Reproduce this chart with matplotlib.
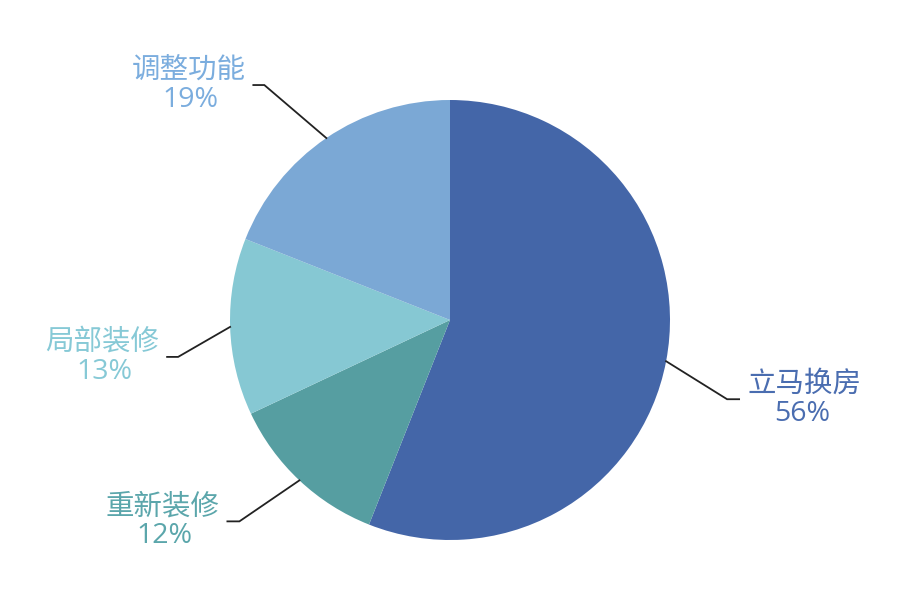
import numpy as np
import matplotlib
matplotlib.use("Agg")
import matplotlib.pyplot as plt

plt.rcParams['font.family'] = ['Noto Sans CJK SC', 'DejaVu Sans']

labels = ['立马换房', '重新装修', '局部装修', '调整功能']
values = [56, 12, 13, 19]
colors = ['#4466a8', '#569ea1', '#86c8d3', '#7ba8d5']
text_colors = ['#4a6db0', '#5ba6ab', '#86c9d6', '#7badde']

W, H = 899, 594
fig = plt.figure(figsize=(W / 100, H / 100), dpi=100)
ax = fig.add_axes([0, 0, 1, 1])

cx, cy, R = 450, H - 320, 220
wedges, _ = ax.pie(values, colors=colors, startangle=90, counterclock=False,
                   center=(cx, cy), radius=R, frame=True,
                   wedgeprops=dict(linewidth=0))
ax.set_xlim(0, W)
ax.set_ylim(0, H)
ax.set_aspect('equal')
ax.axis('off')

# leader-line layout: (elbow dx, elbow dy from edge point), horizontal length, side
layout = [
    ((61, -38), 12, 1),
    ((-60, -41), 12, -1),
    ((-52, -30), 11, -1),
    ((-62, 53), 11, -1),
]

total = sum(values)
start = 90.0
for i, (lab, v) in enumerate(zip(labels, values)):
    span = 360.0 * v / total
    mid = np.deg2rad(start - span / 2)
    start -= span
    ex, ey = cx + R * np.cos(mid), cy + R * np.sin(mid)
    (dx, dy), hl, side = layout[i]
    bx, by = ex + dx, ey + dy
    hx = bx + side * hl
    ax.plot([ex, bx, hx], [ey, by, by], color='#222222', lw=1.3,
            solid_joinstyle='miter', zorder=3)
    tx = hx + side * 8
    ha = 'left' if side > 0 else 'right'
    ax.text(tx, by + 15, lab, color=text_colors[i], fontsize=20.5, ha=ha, va='center')
    name_w = 4 * 27.5
    pcx = tx + side * name_w / 2
    ax.text(pcx, by - 15, f'{v}%', color=text_colors[i], fontsize=20.5,
            family=['Open Sans', 'DejaVu Sans'], ha='center', va='center')

fig.savefig('out.png', dpi=100)
